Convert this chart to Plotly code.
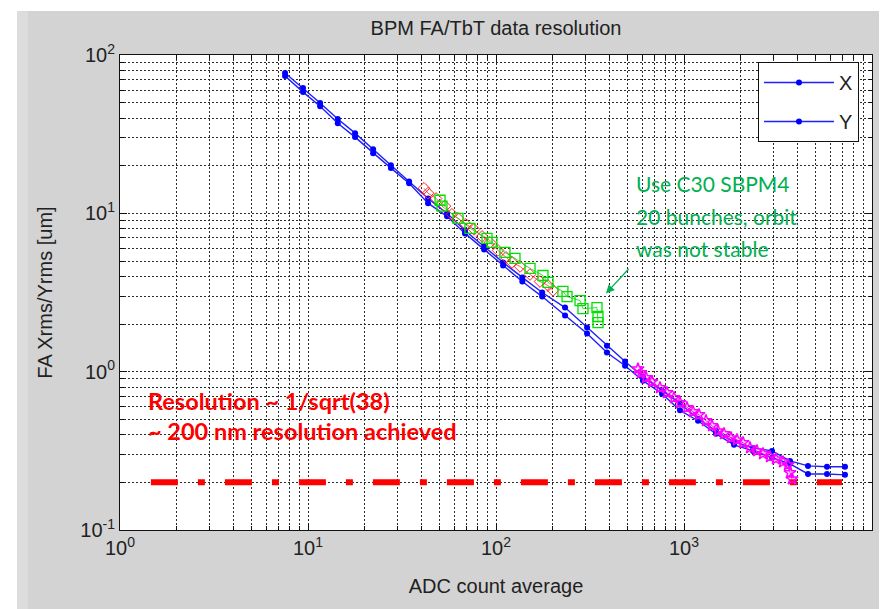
import plotly.graph_objects as go

# ---------------- data ----------------
adc_avg = [7.55, 9.41, 11.6, 14.4, 17.8, 22.2, 27.6, 34.5, 43.5, 54.9, 68.4, 86.4,
           109, 138, 176, 233, 305, 389, 486, 605, 764, 952, 1187, 1480, 1845,
           2328, 2938, 3663, 4566, 5763, 7184]
x_rms = [76.9, 61.8, 49.7, 39.4, 32.1, 25.4, 20.1, 15.9, 12.4, 10.0, 7.80, 6.18,
         4.90, 3.94, 3.16, 2.54, 1.90, 1.46, 1.16, 0.93, 0.758, 0.63, 0.504, 0.423,
         0.361, 0.330, 0.316, 0.273, 0.254, 0.251, 0.251]
y_rms = [73.6, 58.3, 47.5, 37.1, 30.3, 24.0, 19.3, 15.5, 11.6, 9.57, 7.47, 5.92,
         4.69, 3.71, 2.98, 2.26, 1.74, 1.32, 1.09, 0.877, 0.726, 0.57, 0.490, 0.405,
         0.345, 0.316, 0.286, 0.262, 0.226, 0.226, 0.223]

red_adc = [41.4, 43.5, 48.0, 53.5, 58.3, 62.8, 69.2, 76.4, 84.3, 92.9, 102.5, 113,
           121.6, 134.2, 151.7, 171.4, 189.1, 201]
red_rms = [14.4, 13.4, 12.4, 11.1, 9.86, 9.30, 8.51, 7.92, 7.15, 6.55, 5.83, 5.27,
           4.90, 4.62, 4.11, 3.71, 3.50, 3.26]

green_adc = [50.4, 51.6, 62.8, 72.7, 89.6, 95.2, 111.6, 126.2, 151.7, 177.8, 189.1,
             227, 238.7, 279.9, 290.2, 344.5, 348.8, 348.8]
green_rms = [12.1, 11.1, 9.30, 8.04, 6.95, 6.55, 5.66, 5.19, 4.49, 4.05, 3.66,
             3.21, 2.98, 2.81, 2.50, 2.54, 2.23, 2.04]

mag_adc = [569, 590, 628, 676, 745, 812, 885, 952, 1037, 1117, 1202, 1309, 1409,
           1517, 1633, 1778, 1914, 2061, 2244, 2444, 2630, 2866, 3085, 3362, 3574,
           3663, 3752]
mag_rms = [1.04, 0.986, 0.917, 0.865, 0.792, 0.736, 0.684, 0.637, 0.592, 0.558,
           0.535, 0.490, 0.455, 0.423, 0.405, 0.382, 0.371, 0.356, 0.330, 0.316,
           0.303, 0.290, 0.281, 0.269, 0.258, 0.230, 0.210]

res_level = 0.2
res_range = [1.46, 6920]

x_tickvals = [1, 10, 100, 1000, 10000]
x_ticktext = ["10<sup>0</sup>", "10<sup>1</sup>", "10<sup>2</sup>", "10<sup>3</sup>", "10<sup>4</sup>"]
y_tickvals = [0.1, 1, 10, 100]
y_ticktext = ["10<sup>-1</sup>", "10<sup>0</sup>", "10<sup>1</sup>", "10<sup>2</sup>"]

title_text = "BPM FA/TbT data resolution"
x_title = "ADC count average"
y_title = "FA Xrms/Yrms [um]"
green_lines = ["Use C30 SBPM4", "20 bunches, orbit", "was not stable"]
red_lines = ["Resolution ~ 1/sqrt(38)", "~ 200 nm resolution achieved"]

# ---------------- figure ----------------
FONT = "Liberation Sans, Arial, sans-serif"
NOTE_FONT = "Lato, Open Sans, sans-serif"
GRAY = "#d3d3d3"
GRID = "#2a2a2a"
fig = go.Figure()

fig.add_trace(go.Scatter(x=res_range, y=[res_level, res_level], mode="lines",
                         line=dict(color="#ff0000", width=6, dash="27px,20px,7px,20px"),
                         showlegend=False, hoverinfo="skip"))
fig.add_trace(go.Scatter(x=adc_avg, y=x_rms, mode="lines+markers", name="X",
                         legendgroup="x",
                         line=dict(color="#1f1fff", width=1.4),
                         marker=dict(color="#0000ff", size=6, symbol="circle")))
fig.add_trace(go.Scatter(x=adc_avg, y=y_rms, mode="lines+markers", name="Y",
                         legendgroup="y",
                         line=dict(color="#1f1fff", width=1.4),
                         marker=dict(color="#0000ff", size=6, symbol="circle")))
fig.add_trace(go.Scatter(x=red_adc, y=red_rms, mode="lines+markers", showlegend=False,
                         line=dict(color="#ff3030", width=0.8),
                         marker=dict(color="#ff2020", size=9, symbol="diamond-open",
                                     line=dict(width=1))))
fig.add_trace(go.Scatter(x=green_adc, y=green_rms, mode="lines+markers", showlegend=False,
                         line=dict(color="#00dd00", width=0.8),
                         marker=dict(color="#00e000", size=10, symbol="square-open",
                                     line=dict(width=1.3))))
fig.add_trace(go.Scatter(x=mag_adc, y=mag_rms, mode="lines+markers", showlegend=False,
                         line=dict(color="#ff00ff", width=1),
                         marker=dict(color="#ff00ff", size=9, symbol="star-open",
                                     line=dict(width=1.5))))

minor_x = [m * 10 ** e for e in range(0, 4) for m in range(2, 10)]
minor_y = [m * 10 ** e for e in range(-1, 2) for m in range(2, 10)]

axis_common = dict(
    type="log", showline=True, linecolor="#111", linewidth=1, mirror="allticks",
    ticks="inside", ticklen=7, tickcolor="#111",
    showgrid=True, gridcolor=GRID, gridwidth=1, griddash="2px,2px",
    zeroline=False,
    tickfont=dict(family=FONT, size=20, color="#222"),
)
minor_common = dict(tickmode="array", ticks="inside", ticklen=4, tickcolor="#111",
                    showgrid=True, gridcolor=GRID, griddash="2px,2px", gridwidth=1)
fig.update_xaxes(**axis_common, range=[0, 4], tickmode="array",
                 tickvals=x_tickvals, ticktext=x_ticktext,
                 minor=dict(tickvals=minor_x, **minor_common),
                 title=dict(text=x_title, font=dict(family=FONT, size=20, color="#222"),
                            standoff=20))
fig.update_yaxes(**axis_common, range=[-1, 2], tickmode="array",
                 tickvals=y_tickvals, ticktext=y_ticktext,
                 minor=dict(tickvals=minor_y, **minor_common),
                 title=dict(text=y_title, font=dict(family=FONT, size=20, color="#222"),
                            standoff=22))

W, H = 883, 609
L, R, T, B = 120, 11, 55, 79
pw, ph = W - L - R, H - T - B


def px_x(p):
    return (p - L) / pw


def px_y(p):
    return (H - B - p) / ph


shapes = [
    # white boxes behind the notes (above the grid, below the data)
    dict(type="rect", xref="paper", yref="paper", layer="between",
         x0=px_x(124), x1=px_x(570), y0=px_y(458), y1=px_y(374),
         fillcolor="white", line=dict(width=0)),
    dict(type="rect", xref="paper", yref="paper", layer="between",
         x0=px_x(626), x1=px_x(812), y0=px_y(272), y1=px_y(160),
         fillcolor="white", line=dict(width=0)),
    # page frame outside the grey figure area
    dict(type="rect", xref="paper", yref="paper", layer="above",
         x0=px_x(0), x1=px_x(17), y0=px_y(H), y1=px_y(0),
         fillcolor="white", line=dict(width=0)),
    dict(type="rect", xref="paper", yref="paper", layer="above",
         x0=px_x(17), x1=px_x(28), y0=px_y(H), y1=px_y(11),
         fillcolor="#dcdcdc", line=dict(width=0)),
    dict(type="rect", xref="paper", yref="paper", layer="above",
         x0=px_x(0), x1=px_x(W), y0=px_y(11), y1=px_y(0),
         fillcolor="white", line=dict(width=0)),
    dict(type="rect", xref="paper", yref="paper", layer="above",
         x0=px_x(879), x1=px_x(W), y0=px_y(H), y1=px_y(0),
         fillcolor="white", line=dict(width=0)),
]

annotations = []
for i, line in enumerate(green_lines):
    annotations.append(dict(xref="paper", yref="paper", x=px_x(634), y=px_y(183 + 33 * i),
                            xanchor="left", yanchor="middle", align="left",
                            showarrow=False, text=line,
                            font=dict(family=NOTE_FONT, size=21, color="#00b050")))
for i, line in enumerate(red_lines):
    annotations.append(dict(xref="paper", yref="paper", x=px_x(146), y=px_y(401 + 30 * i),
                            xanchor="left", yanchor="middle", align="left",
                            showarrow=False, text="<b>" + line + "</b>",
                            font=dict(family=NOTE_FONT, size=23.5, color="#ff0000")))
annotations.append(dict(x=2.585, y=0.494, xref="x", yref="y", text="", showarrow=True,
                        ax=24, ay=-26, arrowhead=2, arrowsize=1.3, arrowwidth=1.3,
                        arrowcolor="#00b050"))

fig.update_layout(
    width=W, height=H,
    margin=dict(l=L, r=R, t=T, b=B, pad=0),
    paper_bgcolor=GRAY, plot_bgcolor="white",
    title=dict(text=title_text, x=(L + pw / 2) / W, xanchor="center",
               y=1 - 28 / H, yanchor="middle",
               font=dict(family=FONT, size=20, color="#222")),
    showlegend=True,
    legend=dict(x=px_x(859), y=px_y(62), xanchor="right", yanchor="top",
                bgcolor="white", bordercolor="#111", borderwidth=1,
                font=dict(family=FONT, size=20, color="#222"),
                itemwidth=70, tracegroupgap=10),
    shapes=shapes, annotations=annotations,
)

fig.write_html("out.html")
